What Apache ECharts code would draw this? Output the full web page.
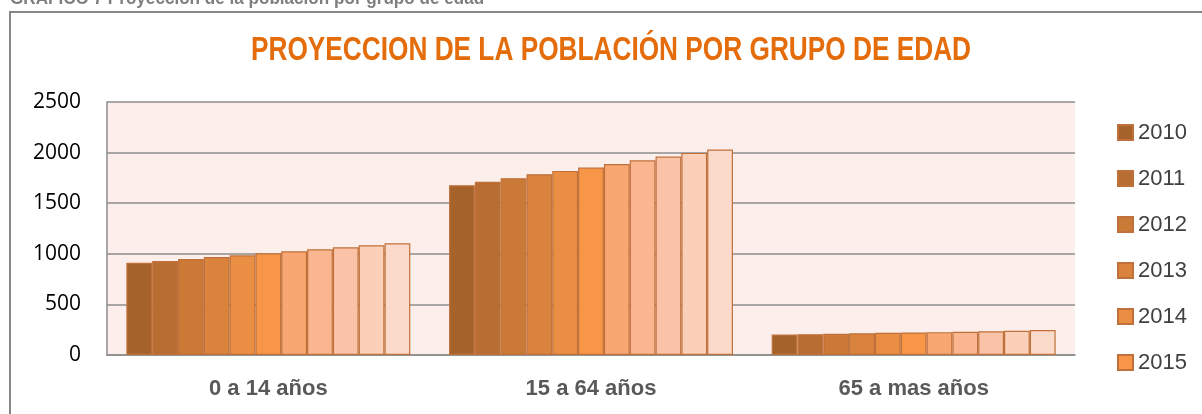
<!DOCTYPE html>
<html>
<head>
<meta charset="utf-8">
<title>Proyección de la población por grupo de edad</title>
<script src="https://cdn.jsdelivr.net/npm/echarts@6/dist/echarts.min.js"></script>
<style>
  html, body { margin: 0; padding: 0; background: #fff; }
  #chart { width: 1202px; height: 414px; }
</style>
</head>
<body>
<div id="chart"></div>
<script>
// data
var groups = ['0 a 14 años', '15 a 64 años', '65 a mas años'];
var years = ['2010', '2011', '2012', '2013', '2014', '2015', '2016', '2017', '2018', '2019', '2020'];
var values0a14 = [912, 929, 949, 968, 985, 1005, 1025, 1045, 1064, 1084, 1104];
var values15a64 = [1678, 1711, 1747, 1786, 1819, 1852, 1888, 1924, 1961, 1997, 2030];
var values65mas = [203, 206, 210, 214, 219, 223, 226, 229, 234, 240, 246];
var yTicks = [0, 500, 1000, 1500, 2000, 2500];
var colors = ['#A5632B', '#B86E33', '#CA7936', '#D9833D', '#E98E42', '#F79646',
              '#F8A773', '#F9B690', '#FAC3A8', '#FCCFB9', '#FCDACA'];

var sans = "'Liberation Sans', Arial, sans-serif";

var chart = echarts.init(document.getElementById('chart'));

var series = years.map(function (year, i) {
    return {
        name: year,
        type: 'bar',
        barGap: 0,
        barCategoryGap: '12%',
        itemStyle: {
            color: colors[i],
            borderColor: '#C0703A',
            borderWidth: 1.2
        },
        data: [values0a14[i], values15a64[i], values65mas[i]]
    };
});

var option = {
    animation: false,
    graphic: [
        {
            type: 'rect',
            shape: { x: 10, y: 12, width: 1300, height: 500 },
            style: { fill: 'none', stroke: '#878787', lineWidth: 2 },
            z: 0
        },
        {
            // caption of the document, cut at the top edge
            type: 'text',
            x: 10, y: -1,
            scaleX: 0.9,
            style: {
                text: 'GRAFICO 7 Proyección de la población por grupo de edad',
                font: 'bold 19px ' + sans,
                fill: '#7f7f7f',
                verticalAlign: 'middle'
            }
        },
        {
            type: 'text',
            x: 611, y: 51,
            scaleX: 0.795,
            style: {
                text: 'PROYECCION DE LA POBLACIÓN POR GRUPO DE EDAD',
                font: 'bold 33px ' + sans,
                fill: '#E46C0A',
                align: 'center',
                verticalAlign: 'middle'
            }
        }
    ],
    legend: {
        orient: 'vertical',
        left: 1117,
        top: 120,
        padding: 0,
        icon: 'rect',
        itemWidth: 15,
        itemHeight: 15,
        itemGap: 21,
        data: years.slice(0, 6),
        textStyle: {
            fontFamily: sans,
            fontSize: 22,
            lineHeight: 25,
            color: '#404040'
        }
    },
    grid: {
        left: 107,
        right: 127,
        top: 102,
        bottom: 59,
        show: true,
        backgroundColor: '#FCEEEA',
        borderWidth: 0
    },
    xAxis: {
        type: 'category',
        data: groups,
        axisTick: { show: false },
        axisLine: { lineStyle: { color: '#8c8c8c', width: 1.5 } },
        axisLabel: {
            margin: 23,
            fontFamily: sans,
            fontWeight: 'bold',
            fontSize: 22,
            color: '#595959'
        }
    },
    yAxis: {
        type: 'value',
        min: yTicks[0],
        max: yTicks[yTicks.length - 1],
        interval: 500,
        axisLine: { show: true, lineStyle: { color: '#8c8c8c', width: 1.5 } },
        axisTick: { show: false },
        splitLine: { lineStyle: { color: '#8c8c8c', width: 1.5 } },
        axisLabel: {
            margin: 26,
            fontFamily: "'Open Sans', sans-serif",
            fontSize: 21,
            color: '#000',
            formatter: function (v) { return String(v); }
        }
    },
    series: series
};

chart.setOption(option);

window.addEventListener('resize', function () {
    chart.resize();
});
</script>
</body>
</html>
